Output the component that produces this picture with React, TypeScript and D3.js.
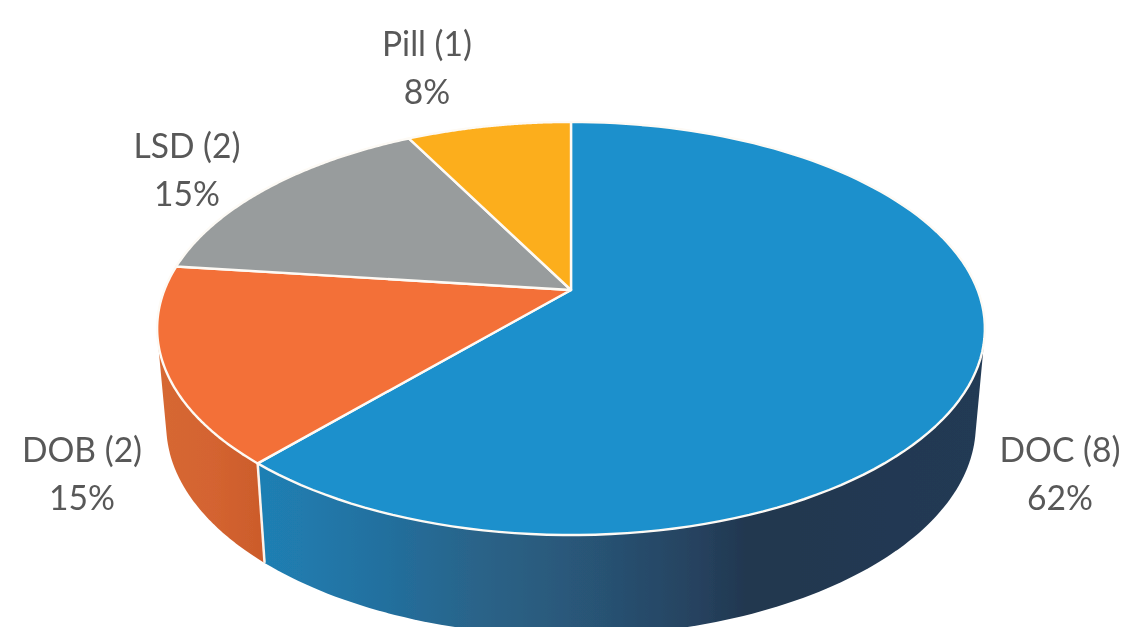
import React from "react";
import * as d3 from "d3";

const categories = ["DOC", "DOB", "LSD", "Pill"];
const counts = [8, 2, 2, 1];
const percents = ["62%", "15%", "15%", "8%"];
const topColors = ["#1a90cc", "#f37037", "#989c9d", "#fcae1e"];
const labelAnchors: [number, number][] = [[1060, 462], [82, 462], [187, 158], [427, 56]];

const W = 1122, H = 627;
const CX = 571, CY = 290;
const K = 406.6, A = 145.3, C = -0.1864;
const DEPTH = 96, SHRINK_X = 0.978, STRETCH_Y = 1.02;
const TEXT_SQUEEZE = 0.96;

// Perspective projection of the unit-circle pie onto the page
const top = (t: number): [number, number] => {
  const X = Math.sin(t), Y = -Math.cos(t);
  const w = 1 + C * Y;
  return [CX + (K * X) / w, (A * Y + CY) / w];
};
const bottom = (t: number): [number, number] => {
  const [x, y] = top(t);
  return [CX + (x - CX) * SHRINK_X, CY + (y - CY) * STRETCH_Y + DEPTH];
};

const deg = (d: number) => (d * Math.PI) / 180;
const arcPts = (f: (t: number) => [number, number], a: number, b: number) =>
  d3.range(0, 121).map((i) => f(a + ((b - a) * i) / 120));

const line = d3.line();
const arcs = d3.pie<number>().sort(null)(counts);

const sidePath = (a: number, b: number) =>
  line(d3.polygonHull([...arcPts(top, a, b), ...arcPts(bottom, a, b)]) as [number, number][]) + "Z";

const slicePath = (a: number, b: number) => line([[CX, CY], ...arcPts(top, a, b)]) + "Z";

export default function App() {
  const seam = arcs[0].endAngle;
  return (
    <svg width={W} height={H} viewBox={`0 0 ${W} ${H}`} style={{ position: "absolute", left: 0, top: 0, background: "#fff" }}>
      <defs>
        <linearGradient id="blueSide" gradientUnits="userSpaceOnUse" x1={265} x2={986} y1={0} y2={0}>
          <stop offset="0" stopColor="#1f7fb3" />
          <stop offset="0.16" stopColor="#22709f" />
          <stop offset="0.3" stopColor="#2a6388" />
          <stop offset="0.42" stopColor="#29587a" />
          <stop offset="0.6" stopColor="#26425f" />
          <stop offset="0.67" stopColor="#21374f" />
          <stop offset="1" stopColor="#233a54" />
        </linearGradient>
        <linearGradient id="orangeSide" gradientUnits="userSpaceOnUse" x1={160} x2={265} y1={0} y2={0}>
          <stop offset="0" stopColor="#d66731" />
          <stop offset="0.5" stopColor="#d46430" />
          <stop offset="1" stopColor="#cb5b2b" />
        </linearGradient>
        <filter id="soft" x="-5%" y="-5%" width="110%" height="110%">
          <feGaussianBlur stdDeviation="0.7" />
        </filter>
      </defs>
      <g filter="url(#soft)">
        <path d={sidePath(deg(80), seam)} fill="url(#blueSide)" />
        <path d={sidePath(seam, deg(285))} fill="url(#orangeSide)" />
        <path d={line([top(seam), bottom(seam)]) as string} stroke="#fdf3ea" strokeWidth={2.5} fill="none" />
        {arcs.map((a, i) => (
          <path key={categories[i]} d={slicePath(a.startAngle, a.endAngle)} fill={topColors[i]} stroke="#fdfaf5" strokeWidth={2.4} strokeLinejoin="round" />
        ))}
        {categories.map((c, i) => (
          <g key={c} transform={`translate(${labelAnchors[i][0]},${labelAnchors[i][1]}) scale(${TEXT_SQUEEZE},1)`}>
            <text textAnchor="middle" fontFamily="Lato, 'Open Sans', sans-serif" fontSize={35} fill="#595959">
              <tspan x={0} y={0}>{`${c} (${counts[i]})`}</tspan>
              <tspan x={0} y={48}>{percents[i]}</tspan>
            </text>
          </g>
        ))}
      </g>
    </svg>
  );
}
